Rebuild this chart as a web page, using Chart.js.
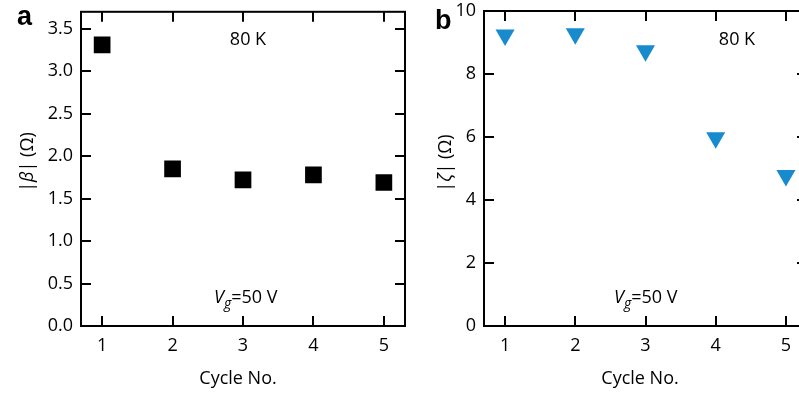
<!DOCTYPE html>
<html>
<head>
<meta charset="utf-8">
<script src="https://cdn.jsdelivr.net/npm/chart.js@4.4.1/dist/chart.umd.min.js"></script>
<style>
  html, body { margin: 0; padding: 0; background: #fff; overflow: hidden; }
  #wrap { position: relative; width: 799px; height: 394px; overflow: hidden; }
  canvas { position: absolute; top: 0; }
  #chartA { left: 0; }
  #chartB { left: 420px; }
</style>
</head>
<body>
<div id="wrap">
  <canvas id="chartA" width="420" height="394"></canvas>
  <canvas id="chartB" width="400" height="394"></canvas>
</div>
<script>
const cycles = [1, 2, 3, 4, 5]
const betaValues = [3.31, 1.85, 1.72, 1.78, 1.69]
const zetaValues = [9.24, 9.28, 8.74, 5.98, 4.78]
const cycleTicks = [1, 2, 3, 4, 5]
const betaTicks = [0, 0.5, 1, 1.5, 2, 2.5, 3, 3.5]
const zetaTicks = [0, 2, 4, 6, 8, 10]

const FONT = '"Open Sans", sans-serif'
const SIZE = 18

// draw a row of text pieces with their own fonts, centred or left aligned
function drawRuns(ctx, runs, x, y, align) {
  let total = 0
  runs.forEach(r => { ctx.font = r.font; total += ctx.measureText(r.text).width })
  let cx = align === 'center' ? x - total / 2 : x
  ctx.textAlign = 'left'
  ctx.textBaseline = 'alphabetic'
  runs.forEach(r => {
    ctx.font = r.font
    ctx.fillText(r.text, cx, y + (r.dy || 0))
    cx += ctx.measureText(r.text).width
  })
}

// box frame with inward ticks on all four sides, plus panel texts
const decor = {
  id: 'decor',
  afterDraw(chart, args, opts) {
    const ctx = chart.ctx
    const a = chart.chartArea
    const xs = chart.scales.x, ys = chart.scales.y
    const len = 10
    const reg = SIZE + 'px ' + FONT
    const ita = 'italic ' + SIZE + 'px ' + FONT
    ctx.save()
    ctx.strokeStyle = '#000'
    ctx.lineWidth = 2
    ctx.strokeRect(a.left, a.top, a.right - a.left, a.bottom - a.top)
    ctx.beginPath()
    xs.ticks.forEach(t => {
      const px = Math.round(xs.getPixelForValue(t.value))
      ctx.moveTo(px, a.bottom); ctx.lineTo(px, a.bottom - len)
      ctx.moveTo(px, a.top); ctx.lineTo(px, a.top + len)
    })
    ys.ticks.forEach(t => {
      const py = Math.round(ys.getPixelForValue(t.value))
      ctx.moveTo(a.left, py); ctx.lineTo(a.left + len, py)
      ctx.moveTo(a.right, py); ctx.lineTo(a.right - len, py)
    })
    ctx.stroke()

    ctx.fillStyle = '#000'
    // panel letter
    ctx.font = 'bold 27px "Liberation Sans", Arial, sans-serif'
    ctx.textAlign = 'left'
    ctx.textBaseline = 'alphabetic'
    ctx.fillText(opts.letter, opts.letterX, opts.letterY)

    // temperature label
    drawRuns(ctx, [{ text: '80 K', font: reg }], opts.tempX, 45, 'center')

    // gate voltage label
    drawRuns(ctx, [
      { text: 'V', font: ita },
      { text: 'g', font: 'italic 14px ' + FONT, dy: 5 },
      { text: '=50 V', font: reg }
    ], opts.gateX, 303, 'left')

    // x axis title
    drawRuns(ctx, [{ text: 'Cycle No.', font: reg }], opts.xTitleX, 384, 'center')

    // y axis title, rotated
    ctx.translate(opts.yTitleX, opts.yTitleY)
    ctx.rotate(-Math.PI / 2)
    drawRuns(ctx, [
      { text: '|', font: reg },
      { text: opts.symbol, font: ita },
      { text: '| (Ω)', font: reg }
    ], 0, 6, 'center')
    ctx.restore()
  }
}

function makePanel(id, values, yTicks, yMax, decimals, point, axisWidth, padRight, decorOpts) {
  const ctx = document.getElementById(id).getContext('2d')
  return new Chart(ctx, {
    type: 'scatter',
    data: {
      datasets: [{
        data: cycles.map((c, i) => ({ x: c, y: values[i] })),
        pointStyle: point.style,
        pointRadius: point.radius,
        pointHoverRadius: point.radius,
        pointRotation: point.rotation,
        backgroundColor: point.color,
        borderColor: point.color,
        borderWidth: 0
      }]
    },
    options: {
      responsive: false,
      devicePixelRatio: 1,
      animation: false,
      layout: { padding: { left: 0, right: padRight, top: 7, bottom: 0 } },
      plugins: {
        legend: { display: false },
        tooltip: { enabled: false },
        decor: decorOpts
      },
      scales: {
        x: {
          type: 'linear',
          min: 0.7,
          max: 5.3,
          afterBuildTicks: s => { s.ticks = cycleTicks.map(v => ({ value: v })) },
          afterFit: s => { s.height = 68; s.paddingLeft = 0; s.paddingRight = 0 },
          grid: { display: false, drawTicks: false },
          border: { display: false },
          ticks: {
            padding: 9,
            color: '#000',
            font: { family: FONT, size: SIZE },
            callback: v => String(v)
          }
        },
        y: {
          type: 'linear',
          min: 0,
          max: yMax,
          afterBuildTicks: s => { s.ticks = yTicks.map(v => ({ value: v })) },
          afterFit: s => { s.width = axisWidth; s.paddingTop = 0; s.paddingBottom = 0 },
          grid: { display: false, drawTicks: false },
          border: { display: false },
          ticks: {
            padding: 8,
            color: '#000',
            font: { family: FONT, size: SIZE },
            callback: v => v.toFixed(decimals)
          }
        }
      }
    },
    plugins: [decor]
  })
}

makePanel('chartA', betaValues, betaTicks, 3.7, 1,
  { style: 'rect', radius: 11.8, rotation: 0, color: '#000' },
  81, 15,
  { letter: 'a', letterX: 17, letterY: 25, tempX: 248, gateX: 214,
    xTitleX: 238, yTitleX: 27, yTitleY: 162, symbol: 'β' })

makePanel('chartB', zetaValues, zetaTicks, 10, 0,
  { style: 'triangle', radius: 11, rotation: 180, color: '#178bcd' },
  64, 13,
  { letter: 'b', letterX: 15, letterY: 29, tempX: 317, gateX: 194,
    xTitleX: 220, yTitleX: 25, yTitleY: 163, symbol: 'ζ' })
</script>
</body>
</html>
